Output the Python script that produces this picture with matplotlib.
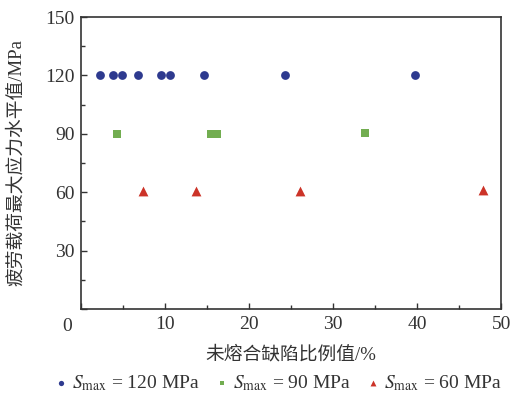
import matplotlib
matplotlib.use("Agg")
import matplotlib.pyplot as plt
from matplotlib.ticker import MultipleLocator

plt.rcParams['font.family'] = ['Liberation Serif', 'Noto Sans CJK SC']
plt.rcParams['mathtext.fontset'] = 'stix'

# Data
x_120 = [2.2, 3.8, 4.8, 6.8, 9.5, 10.6, 14.6, 24.3, 39.8]
y_120 = [120, 120, 120, 120, 120, 120, 120, 120, 120]
x_90 = [4.2, 15.5, 16.1, 33.8]
y_90 = [90, 90, 90, 90.5]
x_60 = [7.4, 13.7, 26.1, 47.8]
y_60 = [60.5, 60.5, 60.5, 61]

labels = [r'$S_{\mathrm{max}}$ = 120 MPa', r'$S_{\mathrm{max}}$ = 90 MPa', r'$S_{\mathrm{max}}$ = 60 MPa']
xlabel = '未熔合缺陷比例值/%'
ylabel = '疲劳载荷最大应力水平值/MPa'
xticks = [0, 10, 20, 30, 40, 50]
yticks = [0, 30, 60, 90, 120, 150]

c_blue = '#2e3a8f'
c_green = '#72ad50'
c_red = '#cc3328'

fig = plt.figure(figsize=(5.15, 3.97), dpi=100)
ax = fig.add_axes([0.158, 0.222, 0.815, 0.735])

h1 = ax.scatter(x_120, y_120, marker='o', s=40, color=c_blue, linewidths=0, zorder=3)
h2 = ax.scatter(x_90, y_90, marker='s', s=28, color=c_green, linewidths=0, zorder=3)
h3 = ax.scatter(x_60, y_60, marker='^', s=50, color=c_red, linewidths=0, zorder=3)

ax.set_xlim(0, 50)
ax.set_ylim(0, 150)
ax.set_xticks(xticks)
ax.set_yticks(yticks)
ax.set_xticklabels([''] + [str(t) for t in xticks[1:]])
ax.set_yticklabels([''] + [str(t) for t in yticks[1:]])
ax.xaxis.set_minor_locator(MultipleLocator(5))
ax.yaxis.set_minor_locator(MultipleLocator(15))
ax.tick_params(which='both', direction='in', top=False, right=False, labelsize=14, colors='#333333', pad=5)
ax.tick_params(which='major', length=4, width=1)
ax.tick_params(which='minor', length=3, width=1)
ax.text(-0.035, -0.03, '0', transform=ax.transAxes, ha='center', va='top', fontsize=14, color='#333333')
for s in ax.spines.values():
    s.set_linewidth(1.2)
    s.set_color('#333333')

ax.set_xlabel(xlabel, fontsize=13.5, color='#333333', labelpad=9)
ax.set_ylabel(ylabel, fontsize=13.5, color='#333333', labelpad=14)

leg = fig.legend([h1, h2, h3], labels, loc='center', bbox_to_anchor=(0.54, 0.035), ncol=3,
                 frameon=False, fontsize=14, handletextpad=0.2, handlelength=0.7,
                 columnspacing=0.8, markerscale=0.6, borderaxespad=0)
for t in leg.get_texts():
    t.set_color('#333333')

fig.savefig('out.png', dpi=100)
